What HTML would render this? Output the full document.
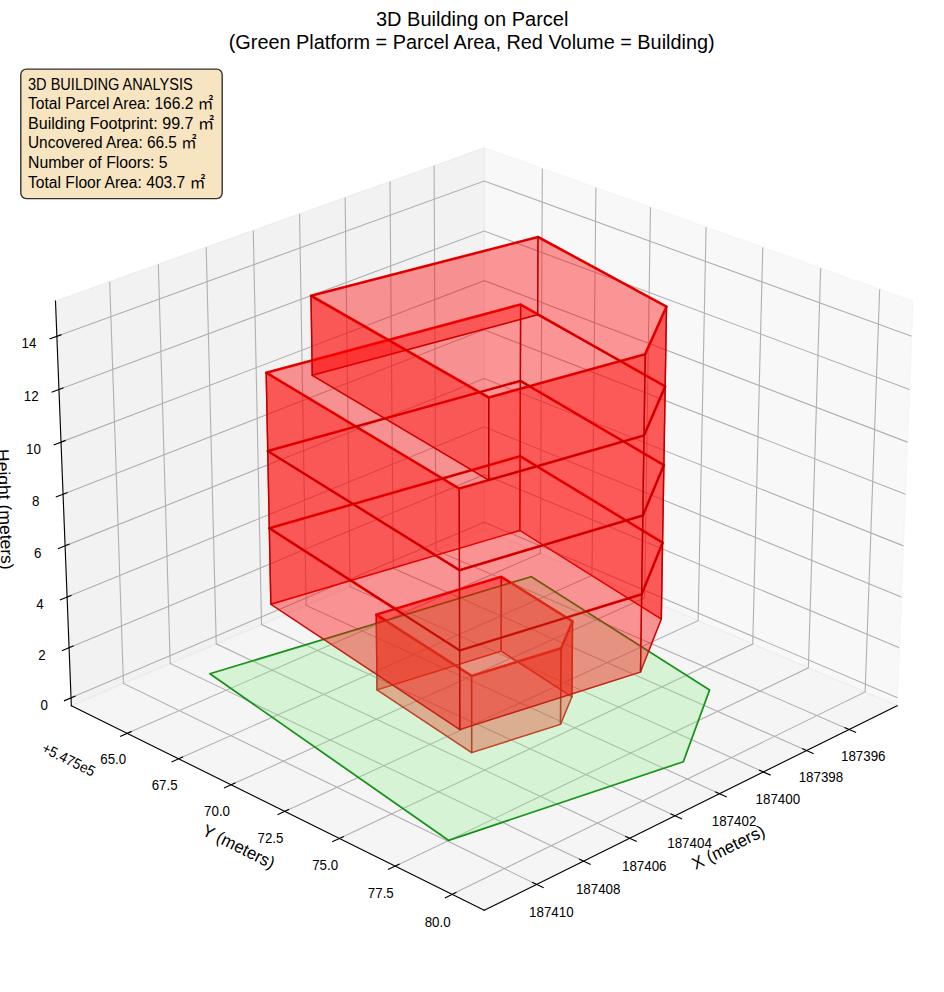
<!DOCTYPE html>
<html lang="en"><head><meta charset="utf-8"><title>3D Building on Parcel</title>
<style>html,body{margin:0;padding:0;background:#fff}svg{display:block}</style></head>
<body>
<svg width="944" height="992" viewBox="0 0 944 992">
<rect width="944" height="992" fill="#fff"/>
<g stroke-linejoin="miter">
<polygon points="484.24,529.49 897.12,705.65 913,301.13 484.24,147.87" fill="#f2f2f2" fill-opacity="0.5" stroke="#f2f2f2" stroke-opacity="0.5" stroke-width="1.39"/>
<polygon points="484.24,529.49 71.36,705.65 55.48,301.13 484.24,147.87" fill="#e6e6e6" fill-opacity="0.5" stroke="#e6e6e6" stroke-opacity="0.5" stroke-width="1.39"/>
<polygon points="484.24,529.49 71.36,705.65 484.24,910.33 897.12,705.65" fill="#ececec" fill-opacity="0.5" stroke="#ececec" stroke-opacity="0.5" stroke-width="1.39"/>
</g>
<g fill="none" stroke="#b0b0b0" stroke-width="1.11" stroke-linejoin="miter">
<polyline points="848.98,729.52 435.86,550.14 434.12,165.79"/>
<polyline points="806.56,750.55 393.28,568.31 389.98,181.56"/>
<polyline points="763.43,771.93 350.04,586.75 345.13,197.59"/>
<polyline points="719.58,793.67 306.13,605.49 299.56,213.88"/>
<polyline points="674.99,815.77 261.53,624.52 253.25,230.44"/>
<polyline points="629.63,838.26 216.23,643.85 206.18,247.26"/>
<polyline points="583.5,861.12 170.2,663.48 158.33,264.36"/>
<polyline points="536.57,884.39 123.44,683.44 109.69,281.75"/>
<polyline points="127.19,733.33 540.34,553.43 542.36,168.64"/>
<polyline points="178.63,758.83 591.96,575.45 595.88,187.77"/>
<polyline points="231.11,784.85 644.54,597.89 650.44,207.27"/>
<polyline points="284.66,811.39 698.12,620.75 706.06,227.16"/>
<polyline points="339.31,838.48 752.72,644.04 762.78,247.43"/>
<polyline points="395.1,866.14 808.37,667.79 820.64,268.11"/>
<polyline points="452.05,894.37 865.1,691.99 879.67,289.21"/>
<polyline points="71.06,697.86 484.24,522.12 897.43,697.86"/>
<polyline points="69.09,647.68 484.24,474.68 899.4,647.68"/>
<polyline points="67.1,597.03 484.24,426.82 901.39,597.03"/>
<polyline points="65.09,545.89 484.24,378.53 903.39,545.89"/>
<polyline points="63.07,494.25 484.24,329.8 905.42,494.25"/>
<polyline points="61.02,442.11 484.24,280.64 907.47,442.11"/>
<polyline points="58.95,389.46 484.24,231.03 909.53,389.46"/>
<polyline points="56.87,336.3 484.24,180.97 911.62,336.3"/>
</g>
<g fill="none" stroke="#000" stroke-width="1.11" stroke-linecap="square">
<path d="M897.12,705.65 L484.24,910.33"/>
<path d="M71.36,705.65 L484.24,910.33"/>
<path d="M71.36,705.65 L55.48,301.13"/>
</g>
<g fill="none" stroke="#000" stroke-width="1.11" stroke-linecap="butt">
<path d="M844.51,727.58 L856.1,732.61"/>
<path d="M802.08,748.58 L813.68,753.69"/>
<path d="M758.96,769.93 L770.56,775.13"/>
<path d="M715.11,791.63 L726.71,796.92"/>
<path d="M670.51,813.71 L682.13,819.08"/>
<path d="M625.16,836.15 L636.78,841.62"/>
<path d="M579.04,858.99 L590.65,864.54"/>
<path d="M532.11,882.22 L543.72,887.87"/>
<path d="M131.66,731.38 L120.07,736.43"/>
<path d="M183.1,756.85 L171.51,761.99"/>
<path d="M235.58,782.82 L223.98,788.07"/>
<path d="M289.13,809.33 L277.52,814.68"/>
<path d="M343.78,836.38 L332.17,841.84"/>
<path d="M399.57,863.99 L387.95,869.57"/>
<path d="M456.52,892.19 L444.9,897.88"/>
<path d="M75.53,695.96 L63.94,700.88"/>
<path d="M73.58,645.81 L61.94,650.66"/>
<path d="M71.61,595.19 L59.91,599.96"/>
<path d="M69.63,544.08 L57.87,548.77"/>
<path d="M67.62,492.47 L55.8,497.09"/>
<path d="M65.6,440.37 L53.72,444.9"/>
<path d="M63.55,387.75 L51.61,392.2"/>
<path d="M61.49,334.62 L49.49,338.98"/>
</g>
<g font-family='"Liberation Sans", "Noto Sans CJK JP", sans-serif' font-size="14.9" text-anchor="middle" fill="#000">
<text x="863.28" y="760.86" textLength="44.58" lengthAdjust="spacingAndGlyphs">187396</text>
<text x="820.92" y="782.08" textLength="44.58" lengthAdjust="spacingAndGlyphs">187398</text>
<text x="777.86" y="803.65" textLength="44.58" lengthAdjust="spacingAndGlyphs">187400</text>
<text x="734.07" y="825.58" textLength="44.58" lengthAdjust="spacingAndGlyphs">187402</text>
<text x="689.55" y="847.88" textLength="44.58" lengthAdjust="spacingAndGlyphs">187404</text>
<text x="644.26" y="870.57" textLength="44.58" lengthAdjust="spacingAndGlyphs">187406</text>
<text x="598.19" y="893.64" textLength="44.58" lengthAdjust="spacingAndGlyphs">187408</text>
<text x="551.33" y="917.12" textLength="44.58" lengthAdjust="spacingAndGlyphs">187410</text>
<text x="113.27" y="764.2" textLength="25.89" lengthAdjust="spacingAndGlyphs">65.0</text>
<text x="164.64" y="789.93" textLength="25.89" lengthAdjust="spacingAndGlyphs">67.5</text>
<text x="217.04" y="816.18" textLength="25.89" lengthAdjust="spacingAndGlyphs">70.0</text>
<text x="270.51" y="842.96" textLength="25.89" lengthAdjust="spacingAndGlyphs">72.5</text>
<text x="325.09" y="870.3" textLength="25.89" lengthAdjust="spacingAndGlyphs">75.0</text>
<text x="380.79" y="898.2" textLength="25.89" lengthAdjust="spacingAndGlyphs">77.5</text>
<text x="437.67" y="926.69" textLength="25.89" lengthAdjust="spacingAndGlyphs">80.0</text>
<text x="44.15" y="709.76" textLength="7.43" lengthAdjust="spacingAndGlyphs">0</text>
<text x="42.05" y="659.58" textLength="7.43" lengthAdjust="spacingAndGlyphs">2</text>
<text x="39.93" y="608.93" textLength="7.43" lengthAdjust="spacingAndGlyphs">4</text>
<text x="37.78" y="557.79" textLength="7.43" lengthAdjust="spacingAndGlyphs">6</text>
<text x="35.62" y="506.15" textLength="7.43" lengthAdjust="spacingAndGlyphs">8</text>
<text x="33.44" y="454.01" textLength="14.86" lengthAdjust="spacingAndGlyphs">10</text>
<text x="31.24" y="401.36" textLength="14.86" lengthAdjust="spacingAndGlyphs">12</text>
<text x="29.01" y="348.2" textLength="14.86" lengthAdjust="spacingAndGlyphs">14</text>
</g>
<g font-family='"Liberation Sans", "Noto Sans CJK JP", sans-serif' fill="#000">
<text transform="translate(728.94,848.48) rotate(-26.37)" y="4.5" font-size="17.2" text-anchor="middle" textLength="78.91" lengthAdjust="spacingAndGlyphs">X (meters)</text>
<text transform="translate(238.14,847.78) rotate(26.37)" y="4.5" font-size="17.2" text-anchor="middle" textLength="78.2" lengthAdjust="spacingAndGlyphs">Y (meters)</text>
<text transform="translate(3.7,509.41) rotate(87.75)" y="4.5" font-size="17.2" text-anchor="middle" textLength="120.72" lengthAdjust="spacingAndGlyphs">Height (meters)</text>
<text transform="translate(42.38,748.11) rotate(26.37)" y="3.8" font-size="14.9" text-anchor="start" textLength="57.31" lengthAdjust="spacingAndGlyphs">+5.475e5</text>
</g>
<polygon points="210,673.75 531.25,576.75 709.5,690 683.25,761.75 448.5,840.3" fill="none" stroke="#0c880c" stroke-width="1.8" stroke-linejoin="round"/>
<g fill="none" stroke="#ff0000" stroke-linejoin="round" stroke-linecap="round">
<polygon points="377.01,689.88 501.19,651.18 571.94,696.83 560.47,724.4 471.67,752.59" stroke-width="1.39"/>
<polygon points="376.24,614.63 501.31,576.82 572.56,621.41 561.03,648.35 471.58,675.9" stroke-width="2.6"/>
<path d="M377.01,689.88 L376.24,614.63 M501.19,651.18 L501.31,576.82 M571.94,696.83 L572.56,621.41 M560.47,724.4 L561.03,648.35 M471.67,752.59 L471.58,675.9" stroke-width="1.39"/>
<polygon points="270.83,604.28 519.87,530.47 661.31,619.09 640.5,672.07 459.81,729.55" stroke-width="1.39"/>
<polygon points="269.3,528.2 520.12,456.2 662.58,542.65 641.65,594.34 459.62,650.45" stroke-width="2.6"/>
<path d="M270.83,604.28 L269.3,528.2 M519.87,530.47 L520.12,456.2 M661.31,619.09 L662.58,542.65 M640.5,672.07 L641.65,594.34 M459.81,729.55 L459.62,650.45" stroke-width="1.39"/>
<polygon points="269.3,528.2 520.12,456.2 662.58,542.65 641.65,594.34 459.62,650.45" stroke-width="1.39"/>
<polygon points="267.75,451.01 520.37,380.89 663.88,465.09 642.82,515.46 459.43,570.14" stroke-width="2.6"/>
<path d="M269.3,528.2 L267.75,451.01 M520.12,456.2 L520.37,380.89 M662.58,542.65 L663.88,465.09 M641.65,594.34 L642.82,515.46 M459.62,650.45 L459.43,570.14" stroke-width="1.39"/>
<polygon points="267.75,451.01 520.37,380.89 663.88,465.09 642.82,515.46 459.43,570.14" stroke-width="1.39"/>
<polygon points="266.17,372.7 520.63,304.52 665.19,386.39 644,435.4 459.24,488.61" stroke-width="2.6"/>
<path d="M267.75,451.01 L266.17,372.7 M520.37,380.89 L520.63,304.52 M663.88,465.09 L665.19,386.39 M642.82,515.46 L644,435.4 M459.43,570.14 L459.24,488.61" stroke-width="1.39"/>
<polygon points="312.26,375.28 537.62,314.76 665.19,386.39 644,435.4 488.72,480.04" stroke-width="1.39"/>
<polygon points="311,295.75 538,237 666.53,306.54 645.21,354.13 488.75,397.5" stroke-width="2.6"/>
<path d="M312.26,375.28 L311,295.75 M537.62,314.76 L538,237 M665.19,386.39 L666.53,306.54 M644,435.4 L645.21,354.13 M488.72,480.04 L488.75,397.5" stroke-width="1.39"/>
</g>
<g fill="#ff0000" fill-opacity="0.4" stroke="#8b0000" stroke-opacity="0.4" stroke-width="1.39" stroke-linejoin="miter">
<polygon points="377.01,689.88 501.19,651.18 501.31,576.82 376.24,614.63"/>
<polygon points="501.19,651.18 571.94,696.83 572.56,621.41 501.31,576.82"/>
<polygon points="571.94,696.83 560.47,724.4 561.03,648.35 572.56,621.41"/>
<polygon points="471.67,752.59 377.01,689.88 376.24,614.63 471.58,675.9"/>
<polygon points="560.47,724.4 471.67,752.59 471.58,675.9 561.03,648.35"/>
</g>
<polygon points="210,673.75 531.25,576.75 709.5,690 683.25,761.75 448.5,840.3" fill="#90ee90" fill-opacity="0.3" stroke="#008000" stroke-opacity="0.12" stroke-width="1.39"/>
<g fill="#ff0000" fill-opacity="0.4" stroke="#8b0000" stroke-opacity="0.4" stroke-width="1.39" stroke-linejoin="miter">
<polygon points="270.83,604.28 519.87,530.47 520.12,456.2 269.3,528.2"/>
<polygon points="519.87,530.47 661.31,619.09 662.58,542.65 520.12,456.2"/>
<polygon points="661.31,619.09 640.5,672.07 641.65,594.34 662.58,542.65"/>
<polygon points="459.81,729.55 270.83,604.28 269.3,528.2 459.62,650.45"/>
<polygon points="640.5,672.07 459.81,729.55 459.62,650.45 641.65,594.34"/>
</g>
<g fill="#ff0000" fill-opacity="0.4" stroke="#8b0000" stroke-opacity="0.4" stroke-width="1.39" stroke-linejoin="miter">
<polygon points="269.3,528.2 520.12,456.2 520.37,380.89 267.75,451.01"/>
<polygon points="520.12,456.2 662.58,542.65 663.88,465.09 520.37,380.89"/>
<polygon points="662.58,542.65 641.65,594.34 642.82,515.46 663.88,465.09"/>
<polygon points="459.62,650.45 269.3,528.2 267.75,451.01 459.43,570.14"/>
<polygon points="641.65,594.34 459.62,650.45 459.43,570.14 642.82,515.46"/>
</g>
<g fill="#ff0000" fill-opacity="0.4" stroke="#8b0000" stroke-opacity="0.4" stroke-width="1.39" stroke-linejoin="miter">
<polygon points="267.75,451.01 520.37,380.89 520.63,304.52 266.17,372.7"/>
<polygon points="520.37,380.89 663.88,465.09 665.19,386.39 520.63,304.52"/>
<polygon points="663.88,465.09 642.82,515.46 644,435.4 665.19,386.39"/>
<polygon points="459.43,570.14 267.75,451.01 266.17,372.7 459.24,488.61"/>
<polygon points="642.82,515.46 459.43,570.14 459.24,488.61 644,435.4"/>
</g>
<g fill="#ff0000" fill-opacity="0.4" stroke="#8b0000" stroke-opacity="0.4" stroke-width="1.39" stroke-linejoin="miter">
<polygon points="312.26,375.28 537.62,314.76 538,237 311,295.75"/>
<polygon points="537.62,314.76 665.19,386.39 666.53,306.54 538,237"/>
<polygon points="665.19,386.39 644,435.4 645.21,354.13 666.53,306.54"/>
<polygon points="488.72,480.04 312.26,375.28 311,295.75 488.75,397.5"/>
<polygon points="644,435.4 488.72,480.04 488.75,397.5 645.21,354.13"/>
</g>
<g font-family='"Liberation Sans", "Noto Sans CJK JP", sans-serif' fill="#000" text-anchor="middle" font-size="20.1">
<text x="472.2" y="25.75" textLength="192.5" lengthAdjust="spacingAndGlyphs">3D Building on Parcel</text>
<text x="471.7" y="49.25" textLength="486" lengthAdjust="spacingAndGlyphs">(Green Platform = Parcel Area, Red Volume = Building)</text>
</g>
<rect x="20.8" y="69.1" width="201.4" height="129.5" rx="5.5" ry="5.5" fill="#f5deb3" fill-opacity="0.8" stroke="#000" stroke-opacity="0.8" stroke-width="1.39"/>
<g font-family='"Liberation Sans", "Noto Sans CJK JP", sans-serif' fill="#000" font-size="15.8">
<text x="28" y="89.5" textLength="164.7" lengthAdjust="spacingAndGlyphs">3D BUILDING ANALYSIS</text>
<text x="28" y="109.14" textLength="185.3" lengthAdjust="spacingAndGlyphs">Total Parcel Area: 166.2 ㎡</text>
<text x="28" y="128.78" textLength="186.1" lengthAdjust="spacingAndGlyphs">Building Footprint: 99.7 ㎡</text>
<text x="28" y="148.42" textLength="168.6" lengthAdjust="spacingAndGlyphs">Uncovered Area: 66.5 ㎡</text>
<text x="28" y="168.06" textLength="139.6" lengthAdjust="spacingAndGlyphs">Number of Floors: 5</text>
<text x="28" y="187.7" textLength="177.3" lengthAdjust="spacingAndGlyphs">Total Floor Area: 403.7 ㎡</text>
</g>
</svg>
</body></html>
